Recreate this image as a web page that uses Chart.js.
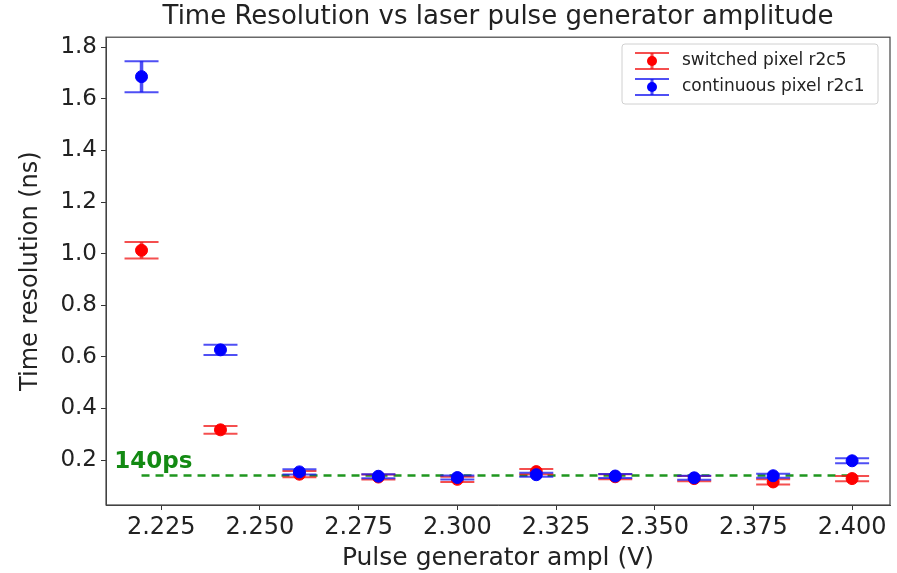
<!DOCTYPE html>
<html lang="en">
<head>
<meta charset="UTF-8">
<title>Time Resolution vs laser pulse generator amplitude</title>
<script src="https://cdn.jsdelivr.net/npm/chart.js"></script>
<style>
html, body {
margin: 0;
padding: 0;
background: #ffffff;
}
.chart-box {
position: relative;
width: 897px;
height: 573px;
}
</style>
</head>
<body>
<div class="chart-box">
<canvas id="resChart"></canvas>
</div>
<script>
// Pulse generator amplitude (V)
const amplitudes = [2.22, 2.24, 2.26, 2.28, 2.30, 2.32, 2.34, 2.36, 2.38, 2.40];

// switched pixel r2c5 - time resolution (ns) and its error
const switchedRes = [1.013, 0.317, 0.145, 0.134, 0.125, 0.155, 0.135, 0.128, 0.115, 0.128];
const switchedErr = [0.032, 0.015, 0.012, 0.010, 0.010, 0.010, 0.010, 0.010, 0.010, 0.010];

// continuous pixel r2c1
const continuousRes = [1.686, 0.627, 0.154, 0.137, 0.132, 0.143, 0.138, 0.131, 0.139, 0.197];
const continuousErr = [0.060, 0.020, 0.010, 0.008, 0.008, 0.008, 0.008, 0.008, 0.008, 0.010];

// 140 ps reference line
const refLevel = 0.14;
const refRange = [2.22, 2.40];

const xTicks = [2.225, 2.250, 2.275, 2.300, 2.325, 2.350, 2.375, 2.400];
const yTicks = [0.2, 0.4, 0.6, 0.8, 1.0, 1.2, 1.4, 1.6, 1.8];

const FONT = "'DejaVu Sans', sans-serif";

function toPoints(xs, ys) {
return xs.map((x, i) => ({ x: x, y: ys[i] }));
}

// draws vertical error bars with caps, under each dataset's markers
const errorBars = {
id: 'errorBars',
beforeDatasetDraw(chart, args) {
const ds = chart.data.datasets[args.index];
if (!ds.errors) return;
const xs = chart.scales.x, ys = chart.scales.y;
const ctx = chart.ctx;
ctx.save();
ctx.strokeStyle = ds.errColor;
ds.data.forEach((p, i) => {
const px = xs.getPixelForValue(p.x);
const top = ys.getPixelForValue(p.y + ds.errors[i]);
const bot = ys.getPixelForValue(p.y - ds.errors[i]);
ctx.lineWidth = 3.5;
ctx.beginPath();
ctx.moveTo(px, top);
ctx.lineTo(px, bot);
ctx.stroke();
ctx.lineWidth = 2;
ctx.beginPath();
ctx.moveTo(px - 17, top);
ctx.lineTo(px + 17, top);
ctx.moveTo(px - 17, bot);
ctx.lineTo(px + 17, bot);
ctx.stroke();
});
ctx.restore();
}
};

// frame around the plot, the "140ps" note and the legend box
const decorations = {
id: 'decorations',
afterDraw(chart) {
const ctx = chart.ctx;
const a = chart.chartArea;
const xs = chart.scales.x, ys = chart.scales.y;
ctx.save();
ctx.strokeStyle = '#444';
ctx.lineWidth = 1.2;
ctx.strokeRect(a.left, a.top, a.right - a.left, a.bottom - a.top);

ctx.fillStyle = '#138a13';
ctx.font = 'bold 23px ' + FONT;
ctx.textBaseline = 'alphabetic';
ctx.fillText('140ps', xs.getPixelForValue(2.2131), ys.getPixelForValue(refLevel) - 7);

// legend
const bx = 622, by = 44, bw = 256, bh = 60;
ctx.fillStyle = 'rgba(255,255,255,0.8)';
ctx.strokeStyle = '#d0d0d0';
ctx.lineWidth = 1;
ctx.beginPath();
ctx.roundRect(bx, by, bw, bh, 3);
ctx.fill();
ctx.stroke();
const entries = chart.data.datasets.filter(d => d.errors);
entries.forEach((d, i) => {
const cy = by + 17 + i * 26;
const cx = bx + 30;
ctx.strokeStyle = d.errColor;
ctx.lineWidth = 2;
ctx.beginPath();
ctx.moveTo(cx - 17, cy - 8); ctx.lineTo(cx + 17, cy - 8);
ctx.moveTo(cx - 17, cy + 8); ctx.lineTo(cx + 17, cy + 8);
ctx.stroke();
ctx.lineWidth = 3;
ctx.beginPath();
ctx.moveTo(cx, cy - 8); ctx.lineTo(cx, cy + 8);
ctx.stroke();
ctx.fillStyle = d.backgroundColor;
ctx.beginPath();
ctx.arc(cx, cy, 5, 0, Math.PI * 2);
ctx.fill();
ctx.fillStyle = '#222';
ctx.font = '17px ' + FONT;
ctx.textBaseline = 'middle';
ctx.fillText(d.label, bx + 60, cy);
});
ctx.restore();
}
};

const ctx = document.getElementById('resChart').getContext('2d');
new Chart(ctx, {
type: 'scatter',
data: {
datasets: [
{
label: 'switched pixel r2c5',
data: toPoints(amplitudes, switchedRes),
errors: switchedErr,
errColor: 'rgba(240,20,20,0.75)',
backgroundColor: 'red',
borderColor: 'red',
pointRadius: 6,
order: 2
},
{
label: 'continuous pixel r2c1',
data: toPoints(amplitudes, continuousRes),
errors: continuousErr,
errColor: 'rgba(20,20,240,0.75)',
backgroundColor: 'blue',
borderColor: 'blue',
pointRadius: 6,
order: 1
},
{
label: '140ps',
type: 'line',
data: toPoints(refRange, [refLevel, refLevel]),
borderColor: '#1f961f',
borderWidth: 2.5,
borderDash: [8, 6],
pointRadius: 0,
fill: false,
order: 3
}
]
},
options: {
responsive: true,
maintainAspectRatio: false,
animation: false,
layout: { padding: { left: 0, right: 4, top: 0, bottom: 0 } },
plugins: {
legend: { display: false },
tooltip: { enabled: false },
title: {
display: true,
fullSize: false,
text: 'Time Resolution vs laser pulse generator amplitude',
color: '#222',
font: { family: FONT, size: 26, weight: 'normal' },
padding: { top: 2, bottom: 4 }
}
},
scales: {
x: {
type: 'linear',
min: 2.211,
max: 2.4096,
afterBuildTicks: s => { s.ticks = xTicks.map(v => ({ value: v })); },
afterFit: s => { s.height = 68; },
ticks: {
color: '#222',
font: { family: FONT, size: 24 },
padding: 3,
callback: v => v.toFixed(3)
},
grid: { display: true, drawOnChartArea: false, drawTicks: true, tickLength: 5, color: '#333' },
border: { display: true, color: '#444' },
title: {
display: true,
text: 'Pulse generator ampl (V)',
color: '#222',
font: { family: FONT, size: 25 },
padding: { top: 0, bottom: 0 }
}
},
y: {
type: 'linear',
min: 0.0256,
max: 1.839,
afterBuildTicks: s => { s.ticks = yTicks.map(v => ({ value: v })); },
afterFit: s => { s.width = 106; },
ticks: {
color: '#222',
font: { family: FONT, size: 23 },
padding: 4,
callback: v => v.toFixed(1)
},
grid: { display: true, drawOnChartArea: false, drawTicks: true, tickLength: 5, color: '#333' },
border: { display: true, color: '#444' },
title: {
display: true,
text: 'Time resolution (ns)',
color: '#222',
font: { family: FONT, size: 24 },
padding: { top: 16, bottom: 0 }
}
}
}
},
plugins: [errorBars, decorations]
});
</script>
</body>
</html>
